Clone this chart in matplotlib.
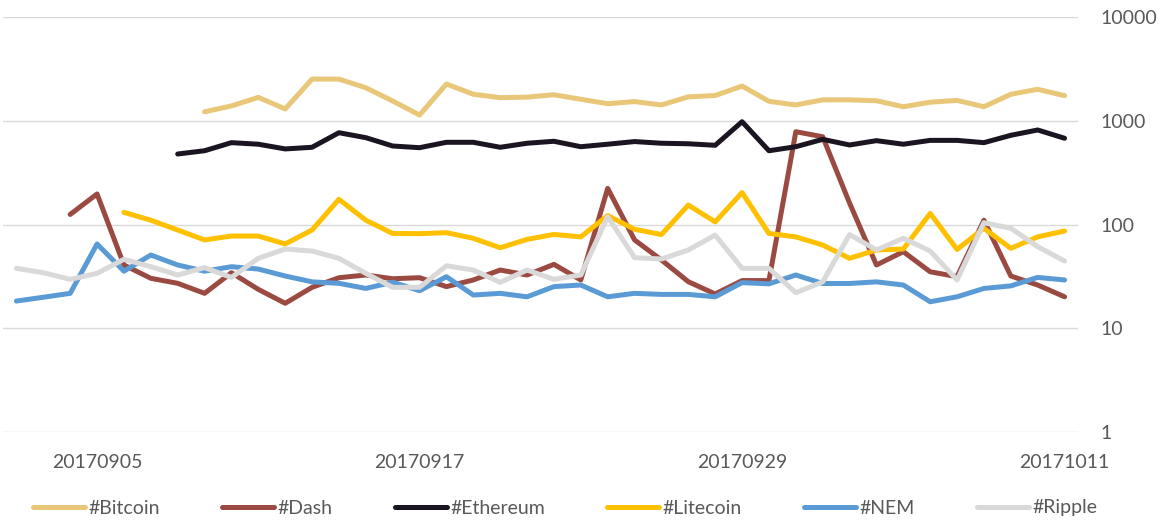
import numpy as np
import pandas as pd
import matplotlib
matplotlib.use("Agg")
import matplotlib.pyplot as plt
from matplotlib.ticker import FixedLocator, FuncFormatter

# categories: one per day, 2017-09-02 .. 2017-10-11
dates = [d.strftime("%Y%m%d") for d in pd.date_range("2017-09-02", "2017-10-11")]

nan = np.nan
bitcoin = [nan, nan, nan, nan, nan, nan, nan,
           1220, 1390, 1680, 1300, 2520, 2520, 2080, 1550, 1135, 2260, 1800,
           1670, 1690, 1780, 1610, 1460, 1530, 1420, 1700, 1750, 2160, 1540,
           1420, 1590, 1590, 1560, 1365, 1510, 1570, 1365, 1800, 2010, 1745]
dash = [nan, nan, 125, 197, 40.7, 30.3, 27.1, 21.7, 34.3, 23.7, 17.4, 24.8,
        30.7, 32.6, 30, 30.7, 25.2, 29.2, 36.4, 32.6, 41.3, 29.2, 223, 71,
        45.5, 28.1, 21.4, 28.8, 28.8, 784, 701, 161, 40.7, 54.7, 35, 31.4,
        110, 31.9, 26.1, 20.1]
ethereum = [nan, nan, nan, nan, nan, nan,
            478, 514, 615, 594, 535, 555, 767, 687, 571, 550, 620, 620, 555,
            607, 634, 562, 594, 630, 607, 600, 580, 979, 514, 562, 662, 584,
            643, 594, 647, 647, 615, 724, 815, 678]
litecoin = [nan, nan, nan, nan,
            131, 110, 88.5, 71, 77.4, 77.4, 64.9, 88.5, 175, 110, 82, 81.6,
            83.4, 73.6, 59.7, 71.9, 80.2, 76, 122, 90, 80, 154, 106, 203, 82,
            76, 63.4, 47.2, 56.8, 58, 128, 57.5, 91.9, 58.9, 76, 86.6]
nem = [18.3, 19.9, 21.7, 64.9, 35.5, 50.8, 40.7, 35.5, 39.2, 37.2, 31.9, 28,
       27.1, 24.2, 27.8, 23, 31.4, 20.9, 21.7, 20.1, 25.2, 26.1, 20.1, 21.7,
       21.2, 21.2, 20.1, 27.5, 26.8, 32.6, 27, 27, 28, 26.1, 18, 20.1, 24.2,
       25.6, 30.9, 29.2]
ripple = [37.8, 34.3, 29.6, 33.8, 46.2, 39.2, 32.6, 38.4, 30.9, 47.2, 58,
          55.5, 47.2, 33.8, 24.8, 24.8, 40, 36.4, 27.7, 36.4, 29.6, 32.6, 119,
          47.9, 46.5, 56.8, 79, 37.8, 37.8, 22, 28, 80, 56.8, 73.6, 55.5, 29.2,
          104, 92, 61.2, 44.5]

series = [("#Bitcoin", bitcoin, "#E9C778"),
          ("#Dash", dash, "#9B4A42"),
          ("#Ethereum", ethereum, "#1B1421"),
          ("#Litecoin", litecoin, "#FFC000"),
          ("#NEM", nem, "#5B9BD5"),
          ("#Ripple", ripple, "#D9D9D9")]

text_color = "#595959"
plt.rcParams["font.family"] = ["Lato", "DejaVu Sans"]

fig = plt.figure(figsize=(11.65, 5.23), dpi=100)
ax = fig.add_axes([3 / 1165, 1 - 432 / 523, 1075 / 1165, 415 / 523])

x = np.arange(len(dates))
for name, vals, color in series:
    ax.plot(x, np.array(vals, dtype=float), color=color, lw=3.6, label=name,
            solid_capstyle="round", solid_joinstyle="round")

ax.set_yscale("log")
ax.set_ylim(1, 10000)
ax.set_xlim(-0.5, len(dates) - 0.5)

ax.yaxis.tick_right()
ax.yaxis.set_major_locator(FixedLocator([1, 10, 100, 1000, 10000]))
ax.yaxis.set_major_formatter(FuncFormatter(lambda v, p: f"{int(round(v))}"))
ax.yaxis.set_minor_locator(FixedLocator([]))
ax.tick_params(axis="y", length=0, pad=16, labelsize=14, labelcolor=text_color)
for lab in ax.get_yticklabels():
    lab.set_horizontalalignment("left")

tick_idx = [3, 15, 27, 39]
ax.set_xticks(tick_idx)
ax.set_xticklabels([dates[i] for i in tick_idx])
ax.tick_params(axis="x", length=0, pad=16, labelsize=14, labelcolor=text_color)

ax.grid(axis="y", color="#D9D9D9", lw=1.0)
ax.set_axisbelow(True)
for s in ax.spines.values():
    s.set_visible(False)

leg = fig.legend(loc="center", bbox_to_anchor=(565 / 1165, 1 - 508 / 523),
                 ncol=6, frameon=False, fontsize=14, handlelength=2.7,
                 handletextpad=0.15, columnspacing=3.2, borderpad=0)
for t in leg.get_texts():
    t.set_color(text_color)
for h in leg.get_lines():
    h.set_solid_capstyle("round")

fig.savefig("out.png", dpi=100)
